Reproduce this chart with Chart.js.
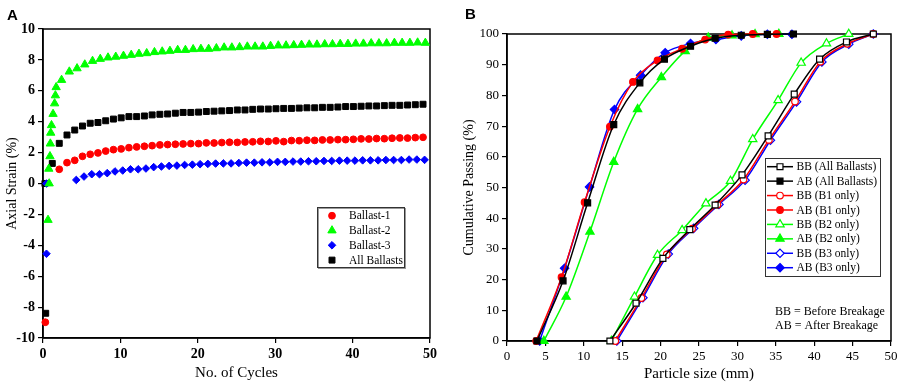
<!DOCTYPE html>
<html>
<head>
<meta charset="utf-8">
<script src="https://cdn.jsdelivr.net/npm/chart.js"></script>
<style>
  body { margin: 0; background: #fff; width: 909px; height: 387px; overflow: hidden; position: relative; }
  #chartA { position: absolute; left: 0; top: 0; }
  #chartB { position: absolute; left: 455px; top: 0; }
  .tag { position: absolute; font: bold 15px "Liberation Sans", Arial, sans-serif; line-height: 16px; color: #000; }
</style>
</head>
<body>
<canvas id="chartA" width="455" height="387"></canvas>
<canvas id="chartB" width="454" height="387"></canvas>
<div class="tag" style="left:7px;top:7px">A</div>
<div class="tag" style="left:465px;top:6px">B</div>
<script>
// ---- panel A : axial strain vs number of cycles ----
var ballast1Cycles = [0.3, 2.1, 3.1, 4.1, 5.1, 6.1, 7.1, 8.1, 9.1, 10.1, 11.1, 12.1, 13.1, 14.1, 15.1, 16.1, 17.1, 18.1, 19.1, 20.1, 21.1, 22.1, 23.1, 24.1, 25.1, 26.1, 27.1, 28.1, 29.1, 30.1, 31.1, 32.1, 33.1, 34.1, 35.1, 36.1, 37.1, 38.1, 39.1, 40.1, 41.1, 42.1, 43.1, 44.1, 45.1, 46.1, 47.1, 48.1, 49.1];
var ballast1Strain = [-8.98, 0.92, 1.35, 1.5, 1.76, 1.89, 1.98, 2.1, 2.19, 2.24, 2.32, 2.37, 2.41, 2.45, 2.5, 2.52, 2.54, 2.56, 2.58, 2.58, 2.63, 2.62, 2.65, 2.67, 2.66, 2.69, 2.7, 2.73, 2.72, 2.76, 2.71, 2.78, 2.77, 2.8, 2.79, 2.82, 2.82, 2.84, 2.84, 2.86, 2.89, 2.88, 2.91, 2.9, 2.93, 2.95, 2.94, 2.97, 2.99];

var ballast2Cycles = [0.65, 0.8, 0.75, 0.9, 0.95, 1.0, 1.1, 1.3, 1.5, 1.6, 1.7, 2.4, 3.4, 4.4, 5.4, 6.4, 7.4, 8.4, 9.4, 10.4, 11.4, 12.4, 13.4, 14.4, 15.4, 16.4, 17.4, 18.4, 19.4, 20.4, 21.4, 22.4, 23.4, 24.4, 25.4, 26.4, 27.4, 28.4, 29.4, 30.4, 31.4, 32.4, 33.4, 34.4, 35.4, 36.4, 37.4, 38.4, 39.4, 40.4, 41.4, 42.4, 43.4, 44.4, 45.4, 46.4, 47.4, 48.4, 49.4];
var ballast2Strain = [-2.36, 0, 0.95, 1.76, 2.58, 3.28, 3.77, 4.5, 5.18, 5.7, 6.23, 6.7, 7.24, 7.45, 7.7, 7.93, 8.06, 8.15, 8.2, 8.26, 8.32, 8.39, 8.43, 8.5, 8.54, 8.58, 8.64, 8.64, 8.69, 8.71, 8.71, 8.75, 8.8, 8.8, 8.82, 8.86, 8.86, 8.86, 8.9, 8.93, 8.93, 8.95, 8.97, 8.99, 8.99, 9.01, 9.01, 9.03, 9.03, 9.05, 9.05, 9.07, 9.07, 9.07, 9.1, 9.1, 9.1, 9.12, 9.1];

var ballast3Cycles = [0.45, 0.45, 4.3, 5.3, 6.3, 7.3, 8.3, 9.3, 10.3, 11.3, 12.3, 13.3, 14.3, 15.3, 16.3, 17.3, 18.3, 19.3, 20.3, 21.3, 22.3, 23.3, 24.3, 25.3, 26.3, 27.3, 28.3, 29.3, 30.3, 31.3, 32.3, 33.3, 34.3, 35.3, 36.3, 37.3, 38.3, 39.3, 40.3, 41.3, 42.3, 43.3, 44.3, 45.3, 46.3, 47.3, 48.3, 49.3];
var ballast3Strain = [-4.55, 0, 0.23, 0.45, 0.6, 0.6, 0.67, 0.78, 0.84, 0.92, 0.92, 0.97, 1.06, 1.1, 1.14, 1.16, 1.2, 1.22, 1.25, 1.27, 1.29, 1.3, 1.3, 1.33, 1.35, 1.35, 1.37, 1.37, 1.4, 1.4, 1.42, 1.42, 1.44, 1.44, 1.46, 1.46, 1.48, 1.48, 1.48, 1.5, 1.5, 1.5, 1.52, 1.52, 1.52, 1.55, 1.55, 1.53];

var allCycles = [0.35, 0.25, 1.2, 2.1, 3.1, 4.1, 5.1, 6.1, 7.1, 8.1, 9.1, 10.1, 11.1, 12.1, 13.1, 14.1, 15.1, 16.1, 17.1, 18.1, 19.1, 20.1, 21.1, 22.1, 23.1, 24.1, 25.1, 26.1, 27.1, 28.1, 29.1, 30.1, 31.1, 32.1, 33.1, 34.1, 35.1, 36.1, 37.1, 38.1, 39.1, 40.1, 41.1, 42.1, 43.1, 44.1, 45.1, 46.1, 47.1, 48.1, 49.1];
var allStrain = [-8.4, 0, 1.3, 2.6, 3.14, 3.46, 3.72, 3.9, 3.95, 4.06, 4.17, 4.25, 4.33, 4.33, 4.37, 4.44, 4.48, 4.5, 4.55, 4.6, 4.6, 4.62, 4.66, 4.68, 4.7, 4.72, 4.76, 4.76, 4.8, 4.82, 4.82, 4.84, 4.86, 4.86, 4.88, 4.9, 4.9, 4.93, 4.93, 4.95, 4.98, 4.98, 5.0, 5.02, 5.02, 5.04, 5.06, 5.06, 5.08, 5.1, 5.13];

// ---- panel B : grading curves ----
var bbAllSize = [13.4, 16.8, 20.3, 23.8, 27.1, 30.6, 34.0, 37.4, 40.7, 44.2, 47.7];
var bbAllPass = [0, 12.3, 26.9, 36.3, 44.3, 54.1, 66.8, 80.4, 91.8, 97.4, 100];
var abAllSize = [3.9, 7.3, 10.5, 13.9, 17.3, 20.5, 23.9, 27.1, 30.5, 33.9, 37.3];
var abAllPass = [0, 19.6, 45.0, 70.5, 84.1, 91.8, 96.0, 98.6, 99.6, 99.9, 100];
var bbB1Size = [14.1, 17.5, 20.8, 24.1, 27.4, 30.8, 34.1, 37.5, 40.8, 44.3, 47.7];
var bbB1Pass = [0, 14.0, 28.2, 36.6, 44.4, 52.6, 65.5, 78.0, 91.0, 96.8, 100];
var abB1Size = [3.8, 7.1, 10.1, 13.4, 16.4, 19.6, 22.8, 25.8, 28.8, 32.0, 35.1];
var abB1Pass = [0, 20.8, 45.2, 69.8, 84.4, 91.4, 95.2, 98.2, 99.8, 100, 100];
var bbB2Size = [13.6, 16.6, 19.6, 22.8, 25.9, 29.1, 32.0, 35.3, 38.3, 41.6, 44.5];
var bbB2Pass = [0, 14.4, 28.0, 36.1, 44.8, 52.1, 65.7, 78.4, 90.6, 96.9, 100];
var abB2Size = [4.8, 7.7, 10.8, 13.9, 17.0, 20.1, 23.2, 26.2, 29.3, 32.3, 35.4];
var abB2Pass = [0, 14.4, 35.6, 58.3, 75.5, 85.9, 94.4, 98.8, 99.5, 99.9, 100];
var bbB3Size = [14.3, 17.7, 21.0, 24.3, 27.6, 31.0, 34.3, 37.7, 41.0, 44.5, 47.7];
var bbB3Pass = [0, 14.1, 28.3, 36.7, 44.5, 52.4, 65.4, 77.9, 90.9, 96.7, 100];
var abB3Size = [4.25, 7.5, 10.75, 14.0, 17.4, 20.6, 23.9, 27.2, 30.5, 33.9, 37.1];
var abB3Pass = [0, 23.7, 50.2, 75.4, 86.6, 93.9, 96.9, 98.2, 99.4, 99.9, 99.9];

var notes = ['BB = Before Breakage', 'AB = After Breakage'];

Chart.defaults.color = '#000';
Chart.defaults.font.family = '"Liberation Serif", "Times New Roman", serif';

function points(xs, ys) {
    return xs.map(function (x, i) { return { x: x, y: ys[i] }; });
}

// marker used in the hand drawn legends
function drawMarker(ctx, style, x, y, r, fill, stroke, lw) {
    ctx.beginPath();
    if (style === 'circle') {
        ctx.arc(x, y, r, 0, Math.PI * 2);
    } else if (style === 'rect') {
        var s = r * Math.SQRT1_2;
        ctx.rect(x - s, y - s, 2 * s, 2 * s);
    } else if (style === 'triangle') {
        ctx.moveTo(x, y - r);
        ctx.lineTo(x + r * 0.866, y + r / 2);
        ctx.lineTo(x - r * 0.866, y + r / 2);
        ctx.closePath();
    } else {
        ctx.moveTo(x, y - r);
        ctx.lineTo(x + r, y);
        ctx.lineTo(x, y + r);
        ctx.lineTo(x - r, y);
        ctx.closePath();
    }
    ctx.fillStyle = fill;
    ctx.fill();
    ctx.lineWidth = lw;
    ctx.strokeStyle = stroke;
    ctx.stroke();
}

var frame = {
    id: 'frame',
    beforeDatasetsDraw: function (chart) {
        var a = chart.chartArea, ctx = chart.ctx;
        ctx.save();
        ctx.strokeStyle = '#000';
        ctx.lineWidth = 1.5;
        ctx.strokeRect(a.left, a.top, a.right - a.left, a.bottom - a.top);
        ctx.restore();
    }
};

var legendA = {
    id: 'legendA',
    afterDraw: function (chart) {
        var ctx = chart.ctx;
        ctx.save();
        ctx.strokeStyle = '#999';
        ctx.lineWidth = 1;
        ctx.strokeRect(318.5, 208.5, 87, 60);
        ctx.strokeStyle = '#333';
        ctx.strokeRect(317.5, 207.5, 87, 60);
        ctx.font = '11.5px "Liberation Serif"';
        ctx.textBaseline = 'middle';
        chart.data.datasets.forEach(function (ds, i) {
            var y = 215.7 + i * 14.8;
            drawMarker(ctx, ds.pointStyle, 332, y, ds.pointRadius, ds.backgroundColor, ds.borderColor, 1);
            ctx.fillStyle = '#000';
            ctx.fillText(ds.label, 349, y + 0.5);
        });
        ctx.restore();
    }
};

var legendB = {
    id: 'legendB',
    afterDraw: function (chart) {
        var ctx = chart.ctx;
        ctx.save();
        ctx.strokeStyle = '#333';
        ctx.lineWidth = 1;
        ctx.strokeRect(310.5, 158.5, 115, 118);
        ctx.font = '11.5px "Liberation Serif"';
        ctx.textBaseline = 'middle';
        chart.data.datasets.forEach(function (ds, i) {
            var y = 166.7 + i * 14.43;
            ctx.beginPath();
            ctx.moveTo(312, y);
            ctx.lineTo(338, y);
            ctx.strokeStyle = ds.borderColor;
            ctx.lineWidth = 1.5;
            ctx.stroke();
            drawMarker(ctx, ds.pointStyle, 325, y, ds.pointRadius, ds.pointBackgroundColor, ds.borderColor, 1.2);
            ctx.fillStyle = '#000';
            ctx.fillText(ds.label, 341.5, y + 0.5);
        });
        ctx.font = '12px "Liberation Serif"';
        notes.forEach(function (t, i) {
            ctx.fillText(t, 320, 311.7 + i * 14.5);
        });
        ctx.restore();
    }
};

function axisStyle() {
    return {
        grid: { drawOnChartArea: false, color: '#000', lineWidth: 1.2, tickLength: 5 },
        border: { color: '#000', width: 1.5 }
    };
}

var xA = axisStyle();
xA.type = 'linear'; xA.min = 0; xA.max = 50;
xA.ticks = { stepSize: 10, autoSkip: false, maxRotation: 0, font: { size: 14, weight: 'bold' } };
xA.title = { display: true, text: 'No. of Cycles', font: { size: 15 }, padding: { top: 0, bottom: 5 } };
xA.afterFit = function (s) { s.height = 49; };

var yA = axisStyle();
yA.min = -10; yA.max = 10;
yA.ticks = { stepSize: 2, autoSkip: false, font: { size: 14, weight: 'bold' } };
yA.title = { display: true, text: 'Axial Strain (%)', font: { size: 14 }, padding: { top: 4, bottom: 0 } };
yA.afterFit = function (s) { s.width = 43; };

new Chart(document.getElementById('chartA'), {
    type: 'scatter',
    data: {
        datasets: [
            { label: 'Ballast-1', data: points(ballast1Cycles, ballast1Strain), pointStyle: 'circle', pointRadius: 3.4, backgroundColor: '#ff0000', borderColor: '#ff0000', borderWidth: 1, clip: false },
            { label: 'Ballast-2', data: points(ballast2Cycles, ballast2Strain), pointStyle: 'triangle', pointRadius: 4.8, backgroundColor: '#00ff00', borderColor: '#00ff00', borderWidth: 1, clip: false },
            { label: 'Ballast-3', data: points(ballast3Cycles, ballast3Strain), pointStyle: 'rectRot', pointRadius: 3.8, backgroundColor: '#0000ff', borderColor: '#0000ff', borderWidth: 1, clip: false },
            { label: 'All Ballasts', data: points(allCycles, allStrain), pointStyle: 'rect', pointRadius: 4.2, backgroundColor: '#000000', borderColor: '#000000', borderWidth: 1, clip: false }
        ]
    },
    options: {
        responsive: false,
        animation: false,
        events: [],
        layout: { padding: { top: 29, right: 25, left: 0, bottom: 0 } },
        plugins: { legend: { display: false }, tooltip: { enabled: false } },
        scales: { x: xA, y: yA }
    },
    plugins: [frame, legendA]
});

// ---- panel B ----
function curve(label, xs, ys, color, style, radius, open) {
    return {
        label: label,
        data: points(xs, ys),
        showLine: true,
        borderColor: color,
        backgroundColor: color,
        borderWidth: 1.5,
        cubicInterpolationMode: 'monotone',
        pointStyle: style,
        pointRadius: radius,
        pointBackgroundColor: open ? '#ffffff' : color,
        pointBorderColor: color,
        pointBorderWidth: 1.2,
        clip: false
    };
}

var xB = axisStyle();
xB.type = 'linear'; xB.min = 0; xB.max = 50;
xB.ticks = { stepSize: 5, autoSkip: false, maxRotation: 0, font: { size: 13 } };
xB.title = { display: true, text: 'Particle size (mm)', font: { size: 15 }, padding: { top: 0, bottom: 4 } };
xB.afterFit = function (s) { s.height = 46; };

var yB = axisStyle();
yB.min = 0; yB.max = 100;
yB.ticks = { stepSize: 10, autoSkip: false, font: { size: 13 } };
yB.title = { display: true, text: 'Cumulative Passing (%)', font: { size: 14 }, padding: { top: 6, bottom: 0 } };
yB.afterFit = function (s) { s.width = 52; };

new Chart(document.getElementById('chartB'), {
    type: 'scatter',
    data: {
        datasets: [
            curve('BB (All Ballasts)', bbAllSize, bbAllPass, '#000000', 'rect', 4.2, true),
            curve('AB (All Ballasts)', abAllSize, abAllPass, '#000000', 'rect', 4.2, false),
            curve('BB (B1 only)', bbB1Size, bbB1Pass, '#ff0000', 'circle', 3.3, true),
            curve('AB (B1 only)', abB1Size, abB1Pass, '#ff0000', 'circle', 3.3, false),
            curve('BB (B2 only)', bbB2Size, bbB2Pass, '#00ff00', 'triangle', 4.8, true),
            curve('AB (B2 only)', abB2Size, abB2Pass, '#00ff00', 'triangle', 4.8, false),
            curve('BB (B3 only)', bbB3Size, bbB3Pass, '#0000ff', 'rectRot', 4.2, true),
            curve('AB (B3 only)', abB3Size, abB3Pass, '#0000ff', 'rectRot', 4.2, false)
        ]
    },
    options: {
        responsive: false,
        animation: false,
        events: [],
        layout: { padding: { top: 34, right: 18, left: 0, bottom: 0 } },
        plugins: { legend: { display: false }, tooltip: { enabled: false } },
        scales: { x: xB, y: yB }
    },
    plugins: [frame, legendB]
});
</script>
</body>
</html>
